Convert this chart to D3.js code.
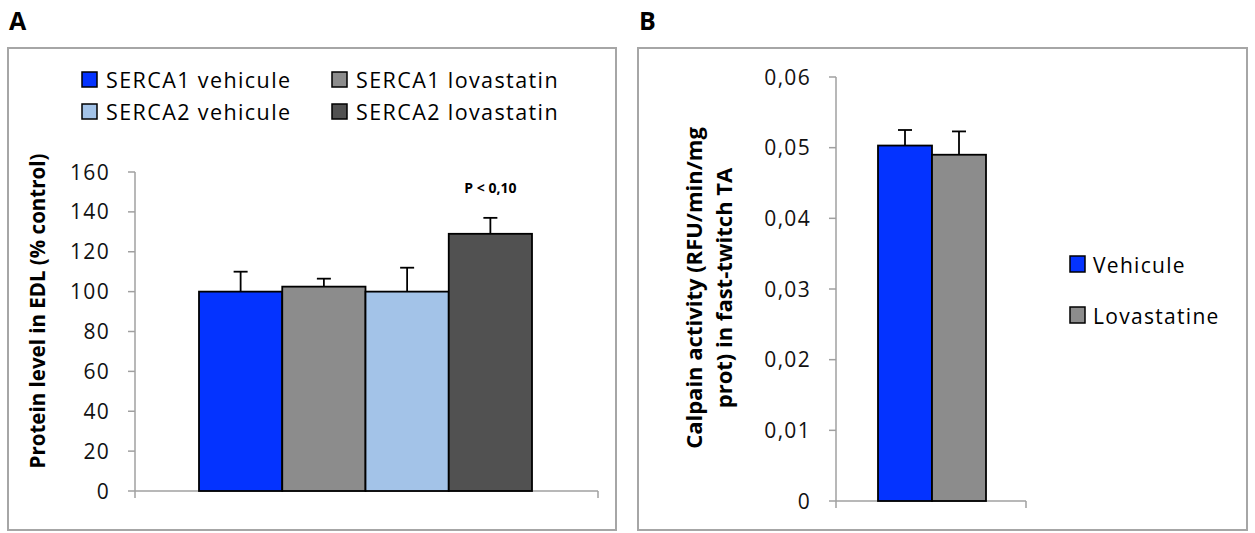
<!DOCTYPE html>
<html>
<head>
<meta charset="utf-8">
<script src="https://cdn.jsdelivr.net/npm/d3@7"></script>
<style>
  body { margin: 0; background: #fff; }
  svg { display: block; font-family: "Open Sans", sans-serif; }
</style>
</head>
<body>
<svg id="chart" width="1255" height="533"></svg>
<script>
// ----------- DATA -----------
const seriesA = ["SERCA1 vehicule", "SERCA1 lovastatin", "SERCA2 vehicule", "SERCA2 lovastatin"];
const valuesA = [100, 102.5, 100, 129];
const errorsA = [10, 4, 12, 8];
const colorsA = ["#0433ff", "#8c8c8c", "#a3c3e8", "#515151"];
const ticksA = [0, 20, 40, 60, 80, 100, 120, 140, 160];

const seriesB = ["Vehicule", "Lovastatine"];
const valuesB = [0.0503, 0.049];
const errorsB = [0.0022, 0.0033];
const colorsB = ["#0433ff", "#8c8c8c"];
const ticksB = [0, 0.01, 0.02, 0.03, 0.04, 0.05, 0.06];

const svg = d3.select("#chart");
svg.append("rect").attr("width", 1255).attr("height", 533).attr("fill", "#fff");

// panel frames + letters
[[8, "A"], [638, "B"]].forEach(([x, letter]) => {
  svg.append("rect")
    .attr("x", x).attr("y", 48).attr("width", x === 8 ? 608 : 609).attr("height", 482)
    .attr("fill", "none").attr("stroke", "#a6a6a6").attr("stroke-width", 2);
  svg.append("text")
    .attr("x", x + 1).attr("y", 30)
    .attr("font-size", 25).attr("font-weight", "bold")
    .text(letter);
});

function drawAxes(g, y, ticks, x0, x1, fmt) {
  g.append("line")
    .attr("x1", x0).attr("x2", x0)
    .attr("y1", y(ticks[ticks.length - 1])).attr("y2", y(0) + 7)
    .attr("stroke", "#a0a0a0").attr("stroke-width", 1.5);
  g.append("line")
    .attr("x1", x0).attr("x2", x1)
    .attr("y1", y(0)).attr("y2", y(0))
    .attr("stroke", "#a0a0a0").attr("stroke-width", 1.5);
  g.append("line")
    .attr("x1", x1).attr("x2", x1)
    .attr("y1", y(0)).attr("y2", y(0) + 7)
    .attr("stroke", "#a0a0a0").attr("stroke-width", 1.5);

  g.selectAll(".tick")
    .data(ticks)
    .enter()
    .append("line")
    .attr("x1", x0 - 7).attr("x2", x0)
    .attr("y1", d => y(d)).attr("y2", d => y(d))
    .attr("stroke", "#a0a0a0").attr("stroke-width", 1.5);

  g.selectAll(".tlabel")
    .data(ticks)
    .enter()
    .append("text")
    .attr("x", x0 - 25)
    .attr("y", d => y(d) + 7.5)
    .attr("text-anchor", "end")
    .attr("font-size", 21)
    .attr("letter-spacing", 1.3)
    .attr("fill", "#111")
    .text(fmt);
}

function drawBars(g, x, y, values, errors, colors, capHalf) {
  g.selectAll(".bar")
    .data(values)
    .enter()
    .append("rect")
    .attr("x", (d, i) => x(i))
    .attr("y", d => y(d))
    .attr("width", x.bandwidth())
    .attr("height", d => y(0) - y(d))
    .attr("fill", (d, i) => colors[i])
    .attr("stroke", "#000").attr("stroke-width", 1.8);

  values.forEach((v, i) => {
    const cx = x(i) + x.bandwidth() / 2;
    g.append("line")
      .attr("x1", cx).attr("x2", cx)
      .attr("y1", y(v)).attr("y2", y(v + errors[i]))
      .attr("stroke", "#000").attr("stroke-width", 1.8);
    g.append("line")
      .attr("x1", cx - capHalf).attr("x2", cx + capHalf)
      .attr("y1", y(v + errors[i])).attr("y2", y(v + errors[i]))
      .attr("stroke", "#000").attr("stroke-width", 1.8);
  });
}

// ----------- PANEL A -----------
const gA = svg.append("g");
const yA = d3.scaleLinear().domain([0, 160]).range([491, 172]);
const xA = d3.scaleBand().domain(d3.range(valuesA.length)).range([199, 532]).padding(0);

drawAxes(gA, yA, ticksA, 135, 598, d => d);
drawBars(gA, xA, yA, valuesA, errorsA, colorsA, 7);

gA.append("text")
  .attr("x", xA(3) + xA.bandwidth() / 2).attr("y", 193)
  .attr("text-anchor", "middle")
  .attr("font-size", 14).attr("font-weight", "bold")
  .text("P < 0,10");

gA.append("text")
  .attr("transform", "translate(45,311) rotate(-90)")
  .attr("text-anchor", "middle")
  .attr("font-size", 20.5).attr("font-weight", "bold")
  .text("Protein level in EDL (% control)");

// legend A (2 columns)
seriesA.forEach((s, i) => {
  const lx = i % 2 === 0 ? 82 : 332;
  const ly = i < 2 ? 88 : 120;
  gA.append("rect")
    .attr("x", lx).attr("y", ly - 16).attr("width", 15).attr("height", 15)
    .attr("fill", colorsA[i]).attr("stroke", "#000").attr("stroke-width", 1.5);
  gA.append("text")
    .attr("x", lx + 24).attr("y", ly)
    .attr("font-size", 21.5)
    .attr("letter-spacing", 1.4)
    .text(s);
});

// ----------- PANEL B -----------
const gB = svg.append("g");
const yB = d3.scaleLinear().domain([0, 0.06]).range([501, 77]);
const xB = d3.scaleBand().domain(d3.range(valuesB.length)).range([878, 986]).padding(0);

drawAxes(gB, yB, ticksB, 836, 1026, d => d === 0 ? "0" : d3.format(".2f")(d).replace(".", ","));
drawBars(gB, xB, yB, valuesB, errorsB, colorsB, 7);

gB.append("text")
  .attr("transform", "rotate(-90)")
  .attr("font-size", 22).attr("font-weight", "bold")
  .attr("text-anchor", "middle")
  .selectAll("tspan")
  .data(["Calpain activity (RFU/min/mg", "prot) in fast-twitch TA"])
  .enter()
  .append("tspan")
  .attr("x", -288)
  .attr("y", (d, i) => 702 + i * 30)
  .text(d => d);

seriesB.forEach((s, i) => {
  const ly = 273 + i * 51;
  gB.append("rect")
    .attr("x", 1070).attr("y", ly - 17).attr("width", 15).attr("height", 16)
    .attr("fill", colorsB[i]).attr("stroke", "#000").attr("stroke-width", 1.5);
  gB.append("text")
    .attr("x", 1093).attr("y", ly)
    .attr("font-size", 21)
    .attr("letter-spacing", 1.3)
    .text(s);
});
</script>
</body>
</html>
